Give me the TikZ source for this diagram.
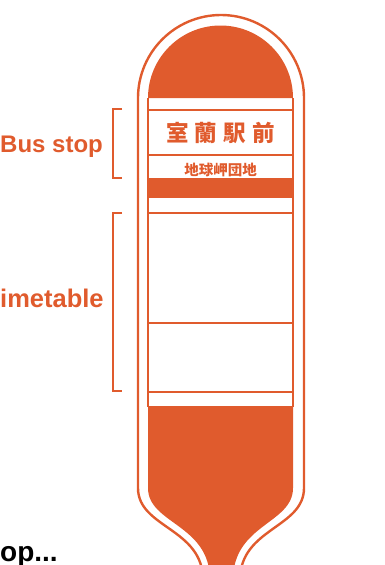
\documentclass[tikz,border=0pt]{standalone}
\usepackage{fontspec}
\setmainfont{Liberation Sans}
\newfontfamily\cjk{Noto Sans CJK JP}
\definecolor{stoporange}{RGB}{224,91,45}
\begin{document}
\begin{tikzpicture}[x=1pt,y=1pt,
    pole/.style={draw=stoporange,line width=2.4pt},
    panel/.style={draw=stoporange,line width=2pt},
    brace/.style={draw=stoporange,line width=1.8pt},
    partlabel/.style={text=stoporange,font=\fontsize{24}{26}\selectfont\bfseries,inner sep=0pt}]
    \useasboundingbox (0,0) rectangle (385,-565);
    \clip (0,0) rectangle (385,-565);

    % outer outline of the pole
    \draw [pole] (203,-580) .. controls (203,-528) and (138,-528) .. (138,-488)
        -- (138,-98) arc[start angle=180,end angle=0,radius=83]
        -- (304,-488) .. controls (304,-528) and (240,-528) .. (240,-580);

    % top dome and bottom base
    \fill [stoporange] (148,-98) arc[start angle=180,end angle=0,radius=72.5] -- cycle;
    \fill [stoporange] (148,-406) -- (148,-488) .. controls (148,-524) and (210,-524) .. (210,-580)
        -- (233,-580) .. controls (233,-524) and (293,-524) .. (293,-488) -- (293,-406) -- cycle;

    % sign panel
    \draw [panel] (148,-98) -- (148,-407);
    \draw [panel] (293,-98) -- (293,-407);
    \foreach \y in {110,155,213,323,392}
        \draw [panel] (148,-\y) -- (293,-\y);
    \fill [stoporange] (148,-178) rectangle (293,-198);

    \node (name) [text=stoporange] at (220.5,-133) {\cjk\bfseries\fontsize{22.5}{24}\selectfont 室\kern6pt 蘭\kern6pt 駅\kern6pt 前};
    \node (sub) [text=stoporange] at (220.5,-169.5) {\cjk\bfseries\fontsize{14.5}{16}\selectfont 地球岬団地};

    % brackets and labels
    \draw [brace] (122,-109) -- (113,-109) -- (113,-178) -- (122,-178);
    \draw [brace] (122,-213) -- (113,-213) -- (113,-391) -- (122,-391);
    \node (stop) [partlabel,anchor=base west] at (0,-152.5) {Bus stop};
    \node (table) [partlabel,anchor=base west,font=\fontsize{25.5}{27}\selectfont\bfseries] at (0,-307) {imetable};
    \node (more) [anchor=base west,inner sep=0pt,font=\fontsize{28}{30}\selectfont\bfseries] at (0,-561) {op...};
\end{tikzpicture}
\end{document}
